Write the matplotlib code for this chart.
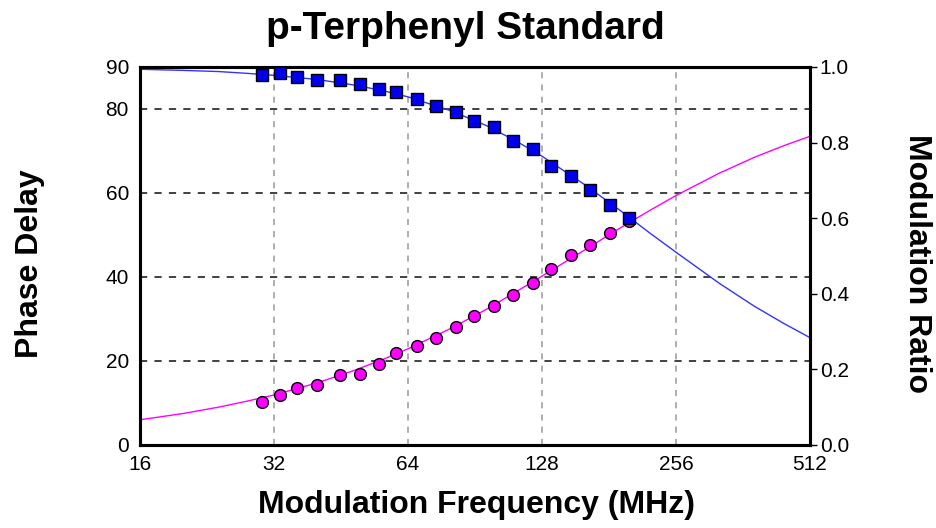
import matplotlib
matplotlib.use('Agg')
import matplotlib.pyplot as plt
from matplotlib.ticker import FixedLocator, NullLocator

# measured points (frequency in MHz)
freq = [30, 33, 36, 40, 45, 50, 55, 60, 67, 74, 82, 90, 100, 110, 122, 134, 149, 164, 182, 201]
phase = [10.3, 11.9, 13.5, 14.2, 16.6, 17.0, 19.4, 21.8, 23.5, 25.5,
         28.0, 30.7, 33.1, 35.8, 38.5, 42.0, 45.3, 47.7, 50.4, 53.4]
modulation = [0.978, 0.983, 0.974, 0.965, 0.966, 0.956, 0.943, 0.935, 0.916, 0.898,
              0.880, 0.858, 0.840, 0.805, 0.783, 0.737, 0.711, 0.675, 0.635, 0.600]

# fitted curves
fit_freq = [16, 20, 24, 28, 32, 40, 48, 56, 64, 80, 96, 112, 128, 160, 192, 224, 256, 320, 384, 448, 512]
fit_phase = [6.0, 7.5, 9.0, 10.5, 11.9, 14.8, 17.6, 20.3, 22.9, 27.8, 32.3, 36.5, 40.2,
             46.5, 51.7, 55.9, 59.4, 64.7, 68.5, 71.3, 73.5]
fit_mod = [0.994, 0.991, 0.988, 0.983, 0.978, 0.967, 0.953, 0.938, 0.921, 0.884, 0.845,
           0.804, 0.764, 0.688, 0.620, 0.560, 0.510, 0.428, 0.367, 0.321, 0.284]

x_ticks = [16, 32, 64, 128, 256, 512]
left_ticks = [0, 20, 40, 60, 80, 90]
right_ticks = [0.0, 0.2, 0.4, 0.6, 0.8, 1.0]

plt.rcParams['font.family'] = ['Liberation Sans', 'DejaVu Sans']

W, H = 936, 528
fig = plt.figure(figsize=(W / 100, H / 100), dpi=100)
ax = fig.add_axes([140/W, 83/H, 670/W, 378/H])
ax2 = ax.twinx()

ax.set_xscale('log', base=2)
ax.set_xlim(16, 512)
ax.set_ylim(0, 90)
ax2.set_ylim(0, 1.0)

# grid
for f in x_ticks[1:-1]:
    ax.axvline(f, color='#999999', linestyle=(0, (4, 4)), linewidth=1.1, zorder=0)
for v in [20, 40, 60, 80]:
    ax.axhline(v, color='#333333', linestyle=(0, (4, 4)), linewidth=1.3, zorder=0)

ax.plot(fit_freq, fit_phase, color='#ff00ff', linewidth=1.0, zorder=2)
ax.plot(freq, phase, 'o', color='#ff00ff', markeredgecolor='black', markeredgewidth=1.0,
        markersize=8.5, zorder=3)
ax2.plot(fit_freq, fit_mod, color='#3333ff', linewidth=1.0, zorder=2)
ax2.plot(freq, modulation, 's', color='#0000ee', markeredgecolor='black', markeredgewidth=1.0,
         markersize=8.5, zorder=3)

ax.xaxis.set_major_locator(FixedLocator(x_ticks))
ax.xaxis.set_minor_locator(NullLocator())
ax.set_xticklabels([str(t) for t in x_ticks])
ax.yaxis.set_major_locator(FixedLocator(left_ticks))
ax2.yaxis.set_major_locator(FixedLocator(right_ticks))
ax2.set_yticklabels(['%.1f' % t for t in right_ticks])

ax.tick_params(axis='x', length=0, pad=7, labelsize=15)
ax.tick_params(axis='y', length=0, pad=8, labelsize=15)
ax2.tick_params(axis='y', length=5, width=1, direction='out', pad=2, labelsize=15)

for a in (ax, ax2):
    for s in a.spines.values():
        s.set_linewidth(2.2)
        s.set_color('black')

fig.text(476/W, 1 - 505/H, 'Modulation Frequency (MHz)', ha='center', va='center',
         fontsize=23, fontweight='bold')
fig.text(30/W, 1 - 264/H, 'Phase Delay', ha='center', va='center', rotation=90,
         fontsize=23, fontweight='bold')
fig.text(917/W, 1 - 263/H, 'Modulation Ratio', ha='center', va='center', rotation=270,
         fontsize=23, fontweight='bold')
fig.text(465/W, 1 - 29/H, 'p-Terphenyl Standard', ha='center', va='center',
         fontsize=28, fontweight='bold')

fig.savefig('out.png', dpi=100)
